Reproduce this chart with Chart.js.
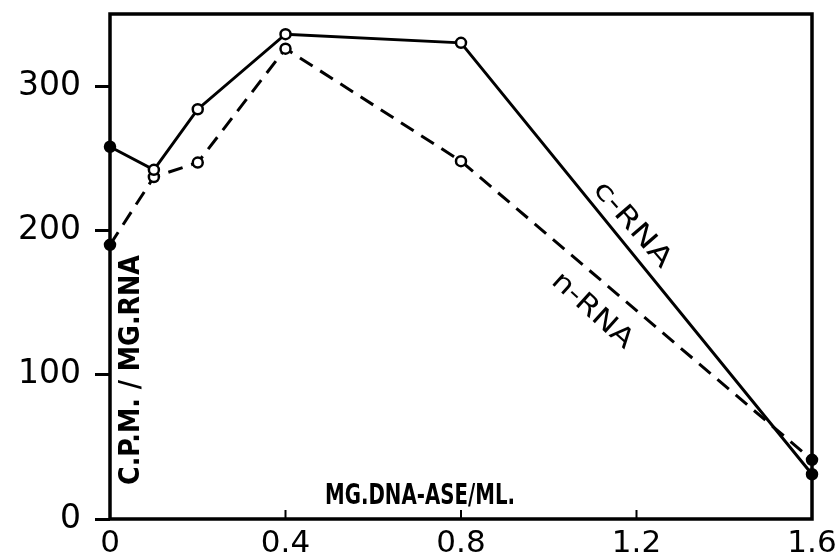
<!DOCTYPE html>
<html>
<head>
<meta charset="utf-8">
<script src="https://cdn.jsdelivr.net/npm/chart.js@4"></script>
<style>
  html, body { margin: 0; padding: 0; background: #fff; }
  #wrap { width: 837px; height: 558px; }
</style>
</head>
<body>
<div id="wrap"><canvas id="cvsRna" width="837" height="558"></canvas></div>
<script>
// data
const dose = [0, 0.1, 0.2, 0.4, 0.8, 1.6];
const cRna = [258, 242, 284, 336, 330, 31];
const nRna = [190, 237, 247, 326, 248, 41];
const xTicks = [0, 0.4, 0.8, 1.2, 1.6];
const yTicks = [0, 100, 200, 300];

const toPts = (ys) => dose.map((x, i) => ({ x: x, y: ys[i] }));
// filled dots at the two ends, open circles in between
const fills = dose.map((x, i) => (i === 0 || i === dose.length - 1) ? '#000' : '#fff');

// text squeezed to a given width, centred at (x, y), rotated by deg
function label(ctx, txt, x, y, deg, w) {
  ctx.save();
  ctx.translate(x, y);
  ctx.rotate(deg * Math.PI / 180);
  const k = w / ctx.measureText(txt).width;
  ctx.scale(k, 1);
  ctx.fillText(txt, 0, 0);
  ctx.restore();
}

const frame = {
  id: 'frame',
  beforeDatasetsDraw(chart) {
    const { ctx, chartArea: a, scales } = chart;
    ctx.save();
    ctx.strokeStyle = '#000';
    ctx.lineWidth = 3.5;
    ctx.strokeRect(a.left, a.top, a.right - a.left, a.bottom - a.top);
    // short x ticks pointing inward
    ctx.lineWidth = 2;
    xTicks.forEach(v => {
      const px = scales.x.getPixelForValue(v);
      ctx.beginPath();
      ctx.moveTo(px, a.bottom);
      ctx.lineTo(px, a.bottom - 9);
      ctx.stroke();
    });
    ctx.restore();
  },
  afterDraw(chart) {
    const ctx = chart.ctx;
    ctx.save();
    ctx.fillStyle = '#000';
    ctx.textBaseline = 'middle';
    ctx.textAlign = 'center';
    ctx.font = 'bold 29px "DejaVu Sans"';
    label(ctx, 'MG.DNA-ASE/ML.', 420, 496, 0, 190);
    label(ctx, 'C.P.M. / MG.RNA', 131, 370, -90, 230);
    ctx.font = '27px "DejaVu Sans"';
    label(ctx, 'c-RNA', 632, 225, 49, 105);
    label(ctx, 'n-RNA', 592, 311, 42, 100);
    ctx.restore();
  }
};

new Chart(document.getElementById('cvsRna'), {
  type: 'line',
  data: {
    datasets: [{
      label: 'c-RNA',
      data: toPts(cRna),
      borderColor: '#000',
      borderWidth: 3,
      pointRadius: 5,
      pointBorderWidth: 2.5,
      pointBorderColor: '#000',
      pointBackgroundColor: fills,
      tension: 0,
      clip: false
    }, {
      label: 'n-RNA',
      data: toPts(nRna),
      borderColor: '#000',
      borderWidth: 3,
      borderDash: [15, 9],
      pointRadius: 5,
      pointBorderWidth: 2.5,
      pointBorderColor: '#000',
      pointBackgroundColor: fills,
      tension: 0,
      clip: false
    }]
  },
  options: {
    responsive: false,
    animation: false,
    layout: { padding: { top: 14, right: 25, left: 0, bottom: 0 } },
    plugins: { legend: { display: false }, tooltip: { enabled: false } },
    scales: {
      x: {
        type: 'linear',
        min: 0,
        max: 1.6,
        afterBuildTicks: (s) => { s.ticks = xTicks.map(v => ({ value: v })); },
        afterFit: (s) => { s.height = 39; s.paddingLeft = 0; s.paddingRight = 0; },
        grid: { display: false, drawTicks: false },
        border: { display: false },
        ticks: {
          color: '#000',
          padding: 6,
          maxRotation: 0,
          font: { family: '"DejaVu Sans"', size: 31 },
          callback: (v) => v === 0 ? '0' : v.toFixed(1)
        }
      },
      y: {
        min: 0,
        max: 350,
        afterBuildTicks: (s) => { s.ticks = yTicks.map(v => ({ value: v })); },
        afterFit: (s) => { s.width = 110; s.paddingTop = 0; s.paddingBottom = 0; },
        grid: { drawOnChartArea: false, tickLength: 15, tickWidth: 3, color: '#000' },
        border: { display: false },
        ticks: {
          color: '#000',
          padding: 14,
          font: { family: '"DejaVu Sans"', size: 33 }
        }
      }
    }
  },
  plugins: [frame]
});
</script>
</body>
</html>
